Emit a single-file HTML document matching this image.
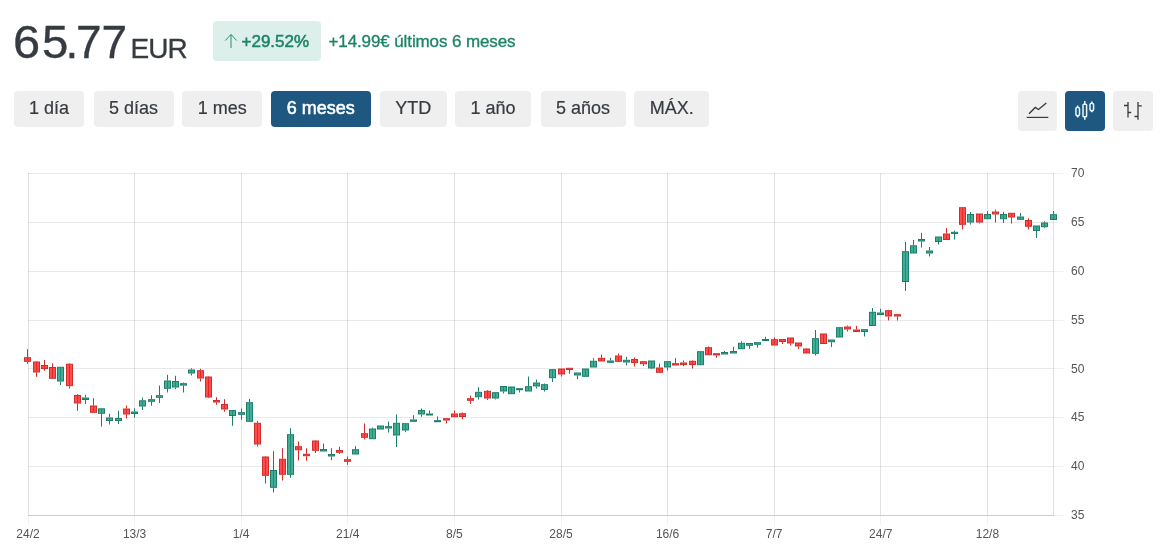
<!DOCTYPE html>
<html lang="es">
<head>
<meta charset="utf-8">
<title>Cotización</title>
<style>
*{box-sizing:border-box;margin:0;padding:0}
html,body{width:1162px;height:559px;background:#fff;overflow:hidden}
body{font-family:"Liberation Sans",Arial,sans-serif;color:#363b42;position:relative}
.price{position:absolute;left:12.9px;top:13.7px;font-size:46px;line-height:56px;color:#363b42;white-space:nowrap;-webkit-text-stroke:0.35px #363b42}
.price span{display:inline-block;transform-origin:0 50%}
.cur{position:absolute;left:130.5px;top:31.8px;font-size:28px;letter-spacing:-0.9px;line-height:34px;color:#363b42;white-space:nowrap;-webkit-text-stroke:0.3px #363b42}
.badge{position:absolute;left:212.500px;top:21px;width:108px;height:39.500px;border-radius:4px;background:#dcefeb;color:#1f8468;font-size:17px;line-height:39px;white-space:nowrap;-webkit-text-stroke:0.55px #1f8468}
.badge span{position:absolute;left:29px;top:0.500px}
.badge svg{position:absolute;left:10px;top:11px}
.delta{position:absolute;left:328.500px;top:21.500px;font-size:17px;letter-spacing:-0.11px;line-height:39px;color:#1f8468;white-space:nowrap;-webkit-text-stroke:0.35px #1f8468}
.btn{position:absolute;top:90.500px;height:36px;border-radius:4px;background:#efefef;color:#363b42;font-size:18px;line-height:35px;text-align:center;white-space:nowrap;-webkit-text-stroke:0.2px #363b42}
.btn.on{background:#1e5880;color:#fff;-webkit-text-stroke:0.55px #fff}
.ibtn{position:absolute;top:91px;width:39.500px;height:39.500px;border-radius:4px;background:#efefef}
.ibtn.on{background:#1e5880}
.ibtn svg{position:absolute;left:0;top:0}
#chart{position:absolute;left:0;top:0}
</style>
</head>
<body>
<div class="price"><span style="width:29.15px;transform:scaleX(1.06)">6</span><span style="width:23.35px;transform:scaleX(1.03)">5</span><span style="width:10.55px">.</span><span style="width:25.5px">7</span><span>7</span></div>
<div class="cur">EUR</div>
<div class="badge"><svg width="16" height="18" viewBox="0 0 16 18"><path d="M8 16V2.500M2.300 8.500L8 2.500L13.700 8.500" fill="none" stroke="#2b8d72" stroke-width="1"/></svg><span>+29.52%</span></div>
<div class="delta">+14.99€ últimos 6 meses</div>

<div class="btn" style="left:14px;width:70px">1 día</div>
<div class="btn" style="left:93.500px;width:80px">5 días</div>
<div class="btn" style="left:182.200px;width:80.100px">1 mes</div>
<div class="btn on" style="left:271px;width:99.500px">6 meses</div>
<div class="btn" style="left:380px;width:66.600px">YTD</div>
<div class="btn" style="left:455px;width:76px">1 año</div>
<div class="btn" style="left:540.500px;width:85px">5 años</div>
<div class="btn" style="left:634.300px;width:75px">MÁX.</div>

<div class="ibtn" style="left:1017.500px"><svg width="40" height="40" viewBox="0 0 40 40"><path d="M11 22.800L17.300 16.500L20.500 18.500L28.300 12" fill="none" stroke="#363b42" stroke-width="1.400" stroke-linejoin="miter"/><path d="M8.700 26.400H30.300" stroke="#363b42" stroke-width="1.200"/></svg></div>
<div class="ibtn on" style="left:1065px"><svg width="40" height="40" viewBox="0 0 40 40"><g fill="none" stroke="#e8f5ff" stroke-width="1.500"><rect x="10.900" y="16.200" width="3.600" height="8.600" rx="1.800"/><rect x="18" y="13.200" width="3.600" height="12.600" rx="0.900"/><rect x="25" y="12.200" width="3.600" height="7.600" rx="1.800"/><path d="M12.700 14.600v1.600M12.700 24.800v1.600M19.800 10v3.200M19.800 25.800v3M26.800 10.400v1.800M26.800 19.800v1.500"/></g></svg></div>
<div class="ibtn" style="left:1113px"><svg width="40" height="40" viewBox="0 0 40 40"><g fill="none" stroke="#363b42" stroke-width="1.300"><path d="M15 11v15.500M11 14.500h4M15 21.500h3.200M25 11v17.800M25 14.800h3.800M21.500 25.500h3.500"/></g></svg></div>

<svg id="chart" width="1162" height="559" viewBox="0 0 1162 559" font-family="Liberation Sans, Arial, sans-serif">
<g fill="none" stroke="#000" stroke-width="1"><path d="M28 173.5H1054M28 222.5H1054M28 271.5H1054M28 320.5H1054M28 368.5H1054M28 417.5H1054M28 466.5H1054" stroke-opacity="0.085"/><path d="M28.5 173V515M134.5 173V515M241.5 173V515M347.5 173V515M454.5 173V515M561.5 173V515M667.5 173V515M774.5 173V515M880.5 173V515M987.5 173V515M1053.5 173V515" stroke-opacity="0.115"/><path d="M1054 173.5H1063.5M1054 222.5H1063.5M1054 271.5H1063.5M1054 320.5H1063.5M1054 368.5H1063.5M1054 417.5H1063.5M1054 466.5H1063.5M1054 515.5H1063.5M28.5 516V525M134.5 516V525M241.5 516V525M347.5 516V525M454.5 516V525M561.5 516V525M667.5 516V525M774.5 516V525M880.5 516V525M987.5 516V525" stroke-opacity="0.05"/></g>
<path d="M28 515.5H1054" fill="none" stroke="#cdcdcd" stroke-width="1"/>
<g font-size="12" fill="#555"><text x="1071" y="177.1">70</text><text x="1071" y="226.0">65</text><text x="1071" y="274.8">60</text><text x="1071" y="323.7">55</text><text x="1071" y="372.5">50</text><text x="1071" y="421.4">45</text><text x="1071" y="470.2">40</text><text x="1071" y="519.1">35</text></g>
<g font-size="12" fill="#555" text-anchor="middle"><text x="28.0" y="538">24/2</text><text x="134.6" y="538">13/3</text><text x="241.2" y="538">1/4</text><text x="347.8" y="538">21/4</text><text x="454.4" y="538">8/5</text><text x="561.0" y="538">28/5</text><text x="667.6" y="538">16/6</text><text x="774.2" y="538">7/7</text><text x="880.8" y="538">24/7</text><text x="987.4" y="538">12/8</text></g>
<g fill="#ff4d4d" stroke="#cf2e2e" stroke-width="1"><rect x="24.5" y="357.7" width="6" height="3.6"/><path d="M27.5 349.2V357.2M27.5 361.8V363.8"/><rect x="33.5" y="362.0" width="6" height="10.0"/><path d="M36.5 361.0V361.5M36.5 372.5V376.8"/><rect x="41.5" y="365.5" width="6" height="3.0"/><path d="M44.5 360.0V365.0M44.5 369.0V370.8"/><rect x="49.5" y="367.5" width="6" height="10.8"/><path d="M52.5 363.2V367.0"/><rect x="66.5" y="364.2" width="6" height="21.5"/><path d="M69.5 363.2V363.7M69.5 386.2V388.5"/><rect x="74.5" y="395.5" width="6" height="7.5"/><path d="M77.5 394.2V395.0M77.5 403.5V410.8"/><rect x="90.5" y="406.0" width="6" height="6.3"/><path d="M93.5 398.2V405.5"/><rect x="123.5" y="409.0" width="6" height="5.0"/><path d="M126.5 405.5V408.5M126.5 414.5V418.5"/><rect x="197.5" y="370.7" width="6" height="7.3"/><path d="M200.5 368.8V370.2M200.5 378.5V381.5"/><rect x="205.5" y="377.0" width="6" height="20.0"/><path d="M208.5 376.0V376.5M208.5 397.5V398.2"/><rect x="213.5" y="400.5" width="6" height="1.5"/><path d="M216.5 397.2V400.0M216.5 402.5V404.8"/><rect x="221.5" y="404.5" width="6" height="4.5"/><path d="M224.5 399.2V404.0M224.5 409.5V411.8"/><rect x="254.5" y="423.3" width="6" height="20.7"/><path d="M257.5 421.0V422.8M257.5 444.5V446.5"/><rect x="262.5" y="457.0" width="6" height="18.3"/><path d="M265.5 456.0V456.5M265.5 475.8V483.5"/><rect x="279.5" y="459.3" width="6" height="15.0"/><path d="M282.5 448.2V458.8M282.5 474.8V480.5"/><rect x="295.5" y="446.7" width="6" height="3.0"/><path d="M298.5 441.5V446.2M298.5 450.2V460.5"/><rect x="303.5" y="454.3" width="6" height="1.4"/><path d="M306.5 448.2V453.8M306.5 456.2V460.8"/><rect x="312.5" y="441.0" width="6" height="9.3"/><path d="M315.5 440.0V440.5M315.5 450.8V453.0"/><rect x="336.5" y="450.5" width="6" height="1.8"/><path d="M339.5 446.8V450.0M339.5 452.8V453.8"/><rect x="344.5" y="459.7" width="6" height="1.6"/><path d="M347.5 456.5V459.2M347.5 461.8V464.8"/><rect x="361.5" y="433.7" width="6" height="3.6"/><path d="M364.5 423.5V433.2M364.5 437.8V439.5"/><rect x="443.5" y="418.7" width="6" height="1.3"/><path d="M446.5 420.5V423.5"/><rect x="451.5" y="414.0" width="6" height="2.7"/><path d="M454.5 410.5V413.5"/><rect x="459.5" y="413.7" width="6" height="2.8"/><path d="M462.5 412.5V413.2M462.5 417.0V419.2"/><rect x="467.5" y="398.7" width="6" height="1.6"/><path d="M470.5 395.5V398.2M470.5 400.8V404.0"/><rect x="484.5" y="391.3" width="6" height="6.7"/><path d="M487.5 390.0V390.8M487.5 398.5V400.0"/><rect x="558.5" y="369.0" width="6" height="5.0"/><path d="M561.5 374.5V376.5"/><rect x="566.5" y="368.3" width="6" height="1.2"/><path d="M569.5 370.0V373.8"/><rect x="598.5" y="358.3" width="6" height="2.7"/><path d="M601.5 354.5V357.8"/><rect x="615.5" y="356.0" width="6" height="5.3"/><path d="M618.5 353.5V355.5"/><rect x="631.5" y="359.5" width="6" height="3.0"/><path d="M634.5 357.5V359.0M634.5 363.0V366.5"/><rect x="640.5" y="361.7" width="6" height="2.0"/><path d="M643.5 364.2V366.0"/><rect x="656.5" y="368.0" width="6" height="4.3"/><path d="M659.5 363.5V367.5"/><rect x="672.5" y="363.7" width="6" height="1.3"/><path d="M675.5 358.2V363.2"/><rect x="680.5" y="363.0" width="6" height="1.5"/><path d="M683.5 360.5V362.5M683.5 365.0V366.2"/><rect x="689.5" y="361.3" width="6" height="3.2"/><path d="M692.5 360.2V360.8M692.5 365.0V368.5"/><rect x="705.5" y="347.7" width="6" height="7.0"/><path d="M708.5 346.5V347.2"/><rect x="713.5" y="353.7" width="6" height="1.3"/><path d="M716.5 355.5V357.8"/><rect x="771.5" y="339.7" width="6" height="5.3"/><path d="M774.5 337.5V339.2"/><rect x="779.5" y="339.5" width="6" height="2.0"/><path d="M782.5 342.0V344.0"/><rect x="787.5" y="338.0" width="6" height="5.0"/><path d="M790.5 343.5V345.5"/><rect x="795.5" y="343.0" width="6" height="3.0"/><path d="M798.5 346.5V349.0"/><rect x="803.5" y="349.0" width="6" height="4.0"/><path d="M806.5 348.0V348.5"/><rect x="820.5" y="334.0" width="6" height="9.5"/><rect x="844.5" y="327.0" width="6" height="2.0"/><path d="M847.5 325.5V326.5M847.5 329.5V331.5"/><rect x="853.5" y="330.0" width="6" height="1.5"/><path d="M856.5 325.8V329.5"/><rect x="885.5" y="310.7" width="6" height="5.3"/><path d="M888.5 309.8V310.2M888.5 316.5V320.5"/><rect x="894.5" y="314.7" width="6" height="1.3"/><path d="M897.5 316.5V320.5"/><rect x="943.5" y="234.0" width="6" height="5.5"/><path d="M946.5 228.0V233.5"/><rect x="959.5" y="207.7" width="6" height="16.6"/><path d="M962.5 224.8V229.5"/><rect x="976.5" y="214.0" width="6" height="8.0"/><path d="M979.5 222.5V223.5"/><rect x="992.5" y="212.0" width="6" height="2.0"/><path d="M995.5 209.5V211.5M995.5 214.5V222.5"/><rect x="1008.5" y="213.3" width="6" height="3.7"/><path d="M1011.5 217.5V223.5"/><rect x="1025.5" y="220.5" width="6" height="5.8"/><path d="M1028.5 218.2V220.0M1028.5 226.8V229.5"/></g>
<path d="M27.5 358.2V360.8M36.5 362.5V371.5M44.5 366.0V368.0M52.5 368.0V377.8M69.5 364.7V385.2M77.5 396.0V402.5M93.5 406.5V411.8M126.5 409.5V413.5M200.5 371.2V377.5M208.5 377.5V396.5M224.5 405.0V408.5M257.5 423.8V443.5M265.5 457.5V474.8M282.5 459.8V473.8M298.5 447.2V449.2M315.5 441.5V449.8M364.5 434.2V436.8M454.5 414.5V416.2M462.5 414.2V416.0M487.5 391.8V397.5M561.5 369.5V373.5M601.5 358.8V360.5M618.5 356.5V360.8M634.5 360.0V362.0M659.5 368.5V371.8M692.5 361.8V364.0M708.5 348.2V354.2M774.5 340.2V344.5M790.5 338.5V342.5M798.5 343.5V345.5M806.5 349.5V352.5M823.5 334.5V343.0M888.5 311.2V315.5M946.5 234.5V239.0M962.5 208.2V223.8M979.5 214.5V221.5M1011.5 213.8V216.5M1028.5 221.0V225.8" fill="none" stroke="#e01818" stroke-width="1" opacity="0.75"/>
<g fill="#42ad97" stroke="#1d7d69" stroke-width="1"><rect x="57.5" y="367.3" width="6" height="13.7"/><path d="M60.5 381.5V385.0"/><rect x="82.5" y="398.0" width="6" height="1.5"/><path d="M85.5 394.8V397.5M85.5 400.0V404.0"/><rect x="98.5" y="408.8" width="6" height="4.5"/><path d="M101.5 413.8V426.5"/><rect x="106.5" y="418.0" width="6" height="2.5"/><path d="M109.5 413.8V417.5M109.5 421.0V424.5"/><rect x="115.5" y="418.5" width="6" height="2.0"/><path d="M118.5 410.8V418.0M118.5 421.0V424.0"/><rect x="131.5" y="412.0" width="6" height="1.5"/><path d="M134.5 408.2V411.5M134.5 414.0V417.5"/><rect x="139.5" y="400.8" width="6" height="5.2"/><path d="M142.5 397.5V400.3M142.5 406.5V410.0"/><rect x="148.5" y="399.7" width="6" height="1.6"/><path d="M151.5 395.2V399.2M151.5 401.8V405.8"/><rect x="156.5" y="395.7" width="6" height="1.6"/><path d="M159.5 385.5V395.2M159.5 397.8V403.0"/><rect x="164.5" y="381.0" width="6" height="7.3"/><path d="M167.5 374.8V380.5M167.5 388.8V392.5"/><rect x="172.5" y="381.5" width="6" height="5.5"/><path d="M175.5 375.8V381.0M175.5 387.5V389.2"/><rect x="180.5" y="383.7" width="6" height="1.4"/><path d="M183.5 382.5V383.2M183.5 385.6V392.5"/><rect x="188.5" y="370.0" width="6" height="3.0"/><path d="M191.5 368.2V369.5M191.5 373.5V375.5"/><rect x="229.5" y="410.5" width="6" height="5.0"/><path d="M232.5 416.0V425.8"/><rect x="238.5" y="412.7" width="6" height="1.6"/><path d="M241.5 408.5V412.2M241.5 414.8V419.8"/><rect x="246.5" y="402.7" width="6" height="18.6"/><path d="M249.5 399.0V402.2"/><rect x="270.5" y="470.5" width="6" height="16.8"/><path d="M273.5 451.2V470.0M273.5 487.8V492.5"/><rect x="287.5" y="434.7" width="6" height="39.6"/><path d="M290.5 428.2V434.2M290.5 474.8V477.8"/><rect x="320.5" y="449.5" width="6" height="1.5"/><path d="M323.5 443.5V449.0"/><rect x="328.5" y="454.5" width="6" height="1.5"/><path d="M331.5 448.2V454.0M331.5 456.5V460.2"/><rect x="352.5" y="449.7" width="6" height="4.3"/><path d="M355.5 446.2V449.2"/><rect x="369.5" y="429.0" width="6" height="9.7"/><path d="M372.5 427.5V428.5"/><rect x="377.5" y="426.0" width="6" height="3.0"/><rect x="385.5" y="426.7" width="6" height="1.3"/><path d="M388.5 421.5V426.2M388.5 428.5V432.5"/><rect x="393.5" y="423.3" width="6" height="11.7"/><path d="M396.5 414.5V422.8M396.5 435.5V447.0"/><rect x="402.5" y="423.7" width="6" height="6.3"/><path d="M405.5 430.5V432.2"/><rect x="410.5" y="420.0" width="6" height="1.3"/><path d="M413.5 415.2V419.5"/><rect x="418.5" y="410.5" width="6" height="3.5"/><path d="M421.5 408.5V410.0M421.5 414.5V416.8"/><rect x="426.5" y="414.0" width="6" height="1.0"/><path d="M429.5 410.5V413.5"/><rect x="434.5" y="420.7" width="6" height="1.0"/><path d="M437.5 416.5V420.2"/><rect x="475.5" y="392.3" width="6" height="4.4"/><path d="M478.5 387.2V391.8M478.5 397.2V399.5"/><rect x="492.5" y="392.7" width="6" height="5.3"/><path d="M495.5 398.5V399.5"/><rect x="500.5" y="386.5" width="6" height="4.5"/><path d="M503.5 391.5V393.5"/><rect x="508.5" y="387.0" width="6" height="6.7"/><rect x="516.5" y="388.7" width="6" height="1.0"/><path d="M519.5 390.2V392.5"/><rect x="525.5" y="386.7" width="6" height="4.3"/><path d="M528.5 376.5V386.2"/><rect x="533.5" y="383.0" width="6" height="3.0"/><path d="M536.5 379.5V382.5M536.5 386.5V388.5"/><rect x="541.5" y="384.7" width="6" height="4.8"/><path d="M544.5 383.5V384.2M544.5 390.0V391.5"/><rect x="549.5" y="369.7" width="6" height="8.0"/><path d="M552.5 378.2V382.0"/><rect x="574.5" y="373.0" width="6" height="2.0"/><path d="M577.5 375.5V379.2"/><rect x="582.5" y="369.0" width="6" height="7.3"/><rect x="590.5" y="361.3" width="6" height="5.7"/><path d="M593.5 358.2V360.8"/><rect x="607.5" y="361.0" width="6" height="1.3"/><path d="M610.5 357.8V360.5"/><rect x="623.5" y="360.3" width="6" height="1.7"/><path d="M626.5 356.8V359.8M626.5 362.5V365.5"/><rect x="648.5" y="361.0" width="6" height="7.0"/><path d="M651.5 368.5V369.2"/><rect x="664.5" y="361.7" width="6" height="5.3"/><path d="M667.5 367.5V370.5"/><rect x="697.5" y="351.7" width="6" height="13.0"/><rect x="721.5" y="352.5" width="6" height="1.5"/><path d="M724.5 351.0V352.0"/><rect x="730.5" y="351.5" width="6" height="1.5"/><path d="M733.5 346.8V351.0"/><rect x="738.5" y="343.3" width="6" height="5.4"/><path d="M741.5 341.2V342.8"/><rect x="746.5" y="343.5" width="6" height="1.8"/><path d="M749.5 345.8V348.8"/><rect x="754.5" y="342.7" width="6" height="1.6"/><path d="M757.5 344.8V347.5"/><rect x="762.5" y="339.5" width="6" height="1.0"/><path d="M765.5 336.8V339.0"/><rect x="812.5" y="338.7" width="6" height="14.6"/><path d="M815.5 330.0V338.2M815.5 353.8V355.5"/><rect x="828.5" y="340.0" width="6" height="1.7"/><path d="M831.5 342.2V347.0"/><rect x="836.5" y="327.7" width="6" height="9.3"/><rect x="861.5" y="329.7" width="6" height="1.8"/><path d="M864.5 332.0V336.5"/><rect x="869.5" y="312.3" width="6" height="13.2"/><path d="M872.5 308.0V311.8"/><rect x="877.5" y="313.0" width="6" height="1.5"/><path d="M880.5 308.8V312.5"/><rect x="902.5" y="251.7" width="6" height="29.8"/><path d="M905.5 242.0V251.2M905.5 282.0V291.0"/><rect x="910.5" y="245.8" width="6" height="7.2"/><path d="M913.5 240.0V245.3"/><rect x="918.5" y="239.5" width="6" height="1.5"/><path d="M921.5 232.8V239.0M921.5 241.5V247.5"/><rect x="926.5" y="251.0" width="6" height="2.0"/><path d="M929.5 247.0V250.5M929.5 253.5V256.5"/><rect x="935.5" y="237.0" width="6" height="4.5"/><path d="M938.5 242.0V244.5"/><rect x="951.5" y="232.3" width="6" height="1.2"/><path d="M954.5 230.5V231.8M954.5 234.0V239.5"/><rect x="967.5" y="214.5" width="6" height="7.5"/><path d="M970.5 212.0V214.0M970.5 222.5V224.5"/><rect x="984.5" y="214.5" width="6" height="4.2"/><path d="M987.5 211.2V214.0"/><rect x="1000.5" y="214.5" width="6" height="4.2"/><path d="M1003.5 211.8V214.0M1003.5 219.2V223.0"/><rect x="1017.5" y="217.0" width="6" height="2.3"/><path d="M1020.5 213.0V216.5"/><rect x="1033.5" y="226.0" width="6" height="4.5"/><path d="M1036.5 231.0V238.0"/><rect x="1041.5" y="223.0" width="6" height="3.7"/><path d="M1044.5 221.2V222.5M1044.5 227.2V228.2"/><rect x="1050.5" y="214.7" width="6" height="4.8"/><path d="M1053.5 211.0V214.2"/></g>
<path d="M60.5 367.8V380.5M101.5 409.3V412.8M109.5 418.5V420.0M142.5 401.3V405.5M167.5 381.5V387.8M175.5 382.0V386.5M191.5 370.5V372.5M232.5 411.0V415.0M249.5 403.2V420.8M273.5 471.0V486.8M290.5 435.2V473.8M355.5 450.2V453.5M372.5 429.5V438.2M380.5 426.5V428.5M396.5 423.8V434.5M405.5 424.2V429.5M421.5 411.0V413.5M478.5 392.8V396.2M495.5 393.2V397.5M503.5 387.0V390.5M511.5 387.5V393.2M528.5 387.2V390.5M536.5 383.5V385.5M544.5 385.2V389.0M552.5 370.2V377.2M585.5 369.5V375.8M593.5 361.8V366.5M651.5 361.5V367.5M667.5 362.2V366.5M700.5 352.2V364.2M741.5 343.8V348.2M815.5 339.2V352.8M839.5 328.2V336.5M872.5 312.8V325.0M905.5 252.2V281.0M913.5 246.3V252.5M938.5 237.5V241.0M970.5 215.0V221.5M987.5 215.0V218.2M1003.5 215.0V218.2M1020.5 217.5V218.8M1036.5 226.5V230.0M1044.5 223.5V226.2M1053.5 215.2V219.0" fill="none" stroke="#168268" stroke-width="1" opacity="0.75"/>
</svg>
</body>
</html>
